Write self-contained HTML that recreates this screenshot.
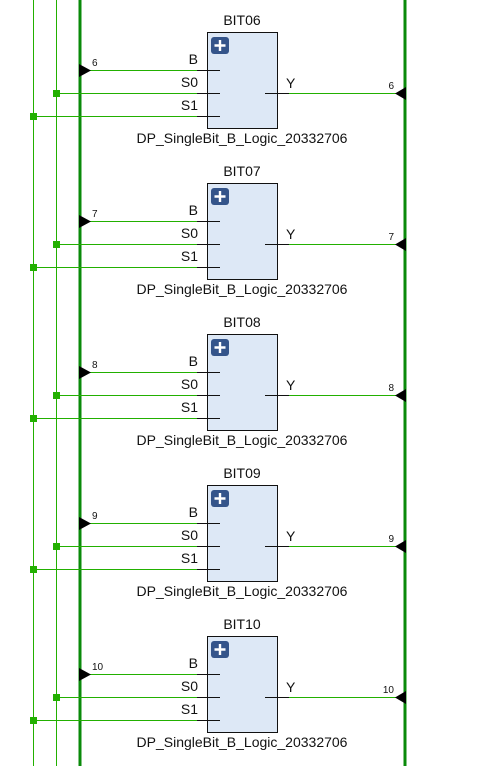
<!DOCTYPE html>
<html><head><style>body{margin:0;background:#fff}svg{display:block}text{font-family:"Liberation Sans",sans-serif;fill:#111}</style></head>
<body>
<svg width="489" height="766" viewBox="0 0 489 766">
<line x1="33.5" y1="0" x2="33.5" y2="766" stroke="#22b000" stroke-width="1"/>
<line x1="56.5" y1="0" x2="56.5" y2="766" stroke="#22b000" stroke-width="1"/>
<line x1="80" y1="0" x2="80" y2="766" stroke="#0a8a0a" stroke-width="3"/>
<line x1="405" y1="0" x2="405" y2="766" stroke="#0a8a0a" stroke-width="3"/>

<g transform="translate(0,0)">
<rect x="207.5" y="32.5" width="70" height="96" fill="#dde8f6" stroke="#111"/>
<rect x="211" y="37" width="18" height="17" rx="3" fill="#34548a"/>
<path d="M220 40v11M214.5 45.5h11" stroke="#fff" stroke-width="2.4"/>
<text x="242" y="25" font-size="14" text-anchor="middle">BIT06</text>
<text x="242" y="143" font-size="14" text-anchor="middle">DP_SingleBit_B_Logic_20332706</text>
<line x1="90" y1="70.5" x2="197" y2="70.5" stroke="#22b000"/>
<line x1="56" y1="93.5" x2="197" y2="93.5" stroke="#22b000"/>
<line x1="33" y1="116.5" x2="197" y2="116.5" stroke="#22b000"/>
<path d="M197 70.5h23M197 93.5h23M197 116.5h23M265 93.5h24" stroke="#111"/>
<line x1="289" y1="93.5" x2="398" y2="93.5" stroke="#22b000"/>
<rect x="53" y="90" width="7" height="7" fill="#22b000"/>
<rect x="30" y="113" width="7" height="7" fill="#22b000"/>
<path d="M79 64L91 70.5L79 77Z" fill="#000"/>
<path d="M406 87L395 93.5L406 100Z" fill="#000"/>
<text x="92" y="66" font-size="10">6</text>
<text x="394" y="89" font-size="10" text-anchor="end">6</text>
<text x="198" y="64" font-size="14" text-anchor="end">B</text>
<text x="198" y="87" font-size="14" text-anchor="end">S0</text>
<text x="198" y="110" font-size="14" text-anchor="end">S1</text>
<text x="286" y="88" font-size="14">Y</text>
</g>

<g transform="translate(0,151)">
<rect x="207.5" y="32.5" width="70" height="96" fill="#dde8f6" stroke="#111"/>
<rect x="211" y="37" width="18" height="17" rx="3" fill="#34548a"/>
<path d="M220 40v11M214.5 45.5h11" stroke="#fff" stroke-width="2.4"/>
<text x="242" y="25" font-size="14" text-anchor="middle">BIT07</text>
<text x="242" y="143" font-size="14" text-anchor="middle">DP_SingleBit_B_Logic_20332706</text>
<line x1="90" y1="70.5" x2="197" y2="70.5" stroke="#22b000"/>
<line x1="56" y1="93.5" x2="197" y2="93.5" stroke="#22b000"/>
<line x1="33" y1="116.5" x2="197" y2="116.5" stroke="#22b000"/>
<path d="M197 70.5h23M197 93.5h23M197 116.5h23M265 93.5h24" stroke="#111"/>
<line x1="289" y1="93.5" x2="398" y2="93.5" stroke="#22b000"/>
<rect x="53" y="90" width="7" height="7" fill="#22b000"/>
<rect x="30" y="113" width="7" height="7" fill="#22b000"/>
<path d="M79 64L91 70.5L79 77Z" fill="#000"/>
<path d="M406 87L395 93.5L406 100Z" fill="#000"/>
<text x="92" y="66" font-size="10">7</text>
<text x="394" y="89" font-size="10" text-anchor="end">7</text>
<text x="198" y="64" font-size="14" text-anchor="end">B</text>
<text x="198" y="87" font-size="14" text-anchor="end">S0</text>
<text x="198" y="110" font-size="14" text-anchor="end">S1</text>
<text x="286" y="88" font-size="14">Y</text>
</g>

<g transform="translate(0,302)">
<rect x="207.5" y="32.5" width="70" height="96" fill="#dde8f6" stroke="#111"/>
<rect x="211" y="37" width="18" height="17" rx="3" fill="#34548a"/>
<path d="M220 40v11M214.5 45.5h11" stroke="#fff" stroke-width="2.4"/>
<text x="242" y="25" font-size="14" text-anchor="middle">BIT08</text>
<text x="242" y="143" font-size="14" text-anchor="middle">DP_SingleBit_B_Logic_20332706</text>
<line x1="90" y1="70.5" x2="197" y2="70.5" stroke="#22b000"/>
<line x1="56" y1="93.5" x2="197" y2="93.5" stroke="#22b000"/>
<line x1="33" y1="116.5" x2="197" y2="116.5" stroke="#22b000"/>
<path d="M197 70.5h23M197 93.5h23M197 116.5h23M265 93.5h24" stroke="#111"/>
<line x1="289" y1="93.5" x2="398" y2="93.5" stroke="#22b000"/>
<rect x="53" y="90" width="7" height="7" fill="#22b000"/>
<rect x="30" y="113" width="7" height="7" fill="#22b000"/>
<path d="M79 64L91 70.5L79 77Z" fill="#000"/>
<path d="M406 87L395 93.5L406 100Z" fill="#000"/>
<text x="92" y="66" font-size="10">8</text>
<text x="394" y="89" font-size="10" text-anchor="end">8</text>
<text x="198" y="64" font-size="14" text-anchor="end">B</text>
<text x="198" y="87" font-size="14" text-anchor="end">S0</text>
<text x="198" y="110" font-size="14" text-anchor="end">S1</text>
<text x="286" y="88" font-size="14">Y</text>
</g>

<g transform="translate(0,453)">
<rect x="207.5" y="32.5" width="70" height="96" fill="#dde8f6" stroke="#111"/>
<rect x="211" y="37" width="18" height="17" rx="3" fill="#34548a"/>
<path d="M220 40v11M214.5 45.5h11" stroke="#fff" stroke-width="2.4"/>
<text x="242" y="25" font-size="14" text-anchor="middle">BIT09</text>
<text x="242" y="143" font-size="14" text-anchor="middle">DP_SingleBit_B_Logic_20332706</text>
<line x1="90" y1="70.5" x2="197" y2="70.5" stroke="#22b000"/>
<line x1="56" y1="93.5" x2="197" y2="93.5" stroke="#22b000"/>
<line x1="33" y1="116.5" x2="197" y2="116.5" stroke="#22b000"/>
<path d="M197 70.5h23M197 93.5h23M197 116.5h23M265 93.5h24" stroke="#111"/>
<line x1="289" y1="93.5" x2="398" y2="93.5" stroke="#22b000"/>
<rect x="53" y="90" width="7" height="7" fill="#22b000"/>
<rect x="30" y="113" width="7" height="7" fill="#22b000"/>
<path d="M79 64L91 70.5L79 77Z" fill="#000"/>
<path d="M406 87L395 93.5L406 100Z" fill="#000"/>
<text x="92" y="66" font-size="10">9</text>
<text x="394" y="89" font-size="10" text-anchor="end">9</text>
<text x="198" y="64" font-size="14" text-anchor="end">B</text>
<text x="198" y="87" font-size="14" text-anchor="end">S0</text>
<text x="198" y="110" font-size="14" text-anchor="end">S1</text>
<text x="286" y="88" font-size="14">Y</text>
</g>

<g transform="translate(0,604)">
<rect x="207.5" y="32.5" width="70" height="96" fill="#dde8f6" stroke="#111"/>
<rect x="211" y="37" width="18" height="17" rx="3" fill="#34548a"/>
<path d="M220 40v11M214.5 45.5h11" stroke="#fff" stroke-width="2.4"/>
<text x="242" y="25" font-size="14" text-anchor="middle">BIT10</text>
<text x="242" y="143" font-size="14" text-anchor="middle">DP_SingleBit_B_Logic_20332706</text>
<line x1="90" y1="70.5" x2="197" y2="70.5" stroke="#22b000"/>
<line x1="56" y1="93.5" x2="197" y2="93.5" stroke="#22b000"/>
<line x1="33" y1="116.5" x2="197" y2="116.5" stroke="#22b000"/>
<path d="M197 70.5h23M197 93.5h23M197 116.5h23M265 93.5h24" stroke="#111"/>
<line x1="289" y1="93.5" x2="398" y2="93.5" stroke="#22b000"/>
<rect x="53" y="90" width="7" height="7" fill="#22b000"/>
<rect x="30" y="113" width="7" height="7" fill="#22b000"/>
<path d="M79 64L91 70.5L79 77Z" fill="#000"/>
<path d="M406 87L395 93.5L406 100Z" fill="#000"/>
<text x="92" y="66" font-size="10">10</text>
<text x="394" y="89" font-size="10" text-anchor="end">10</text>
<text x="198" y="64" font-size="14" text-anchor="end">B</text>
<text x="198" y="87" font-size="14" text-anchor="end">S0</text>
<text x="198" y="110" font-size="14" text-anchor="end">S1</text>
<text x="286" y="88" font-size="14">Y</text>
</g>
</svg>
</body></html>
